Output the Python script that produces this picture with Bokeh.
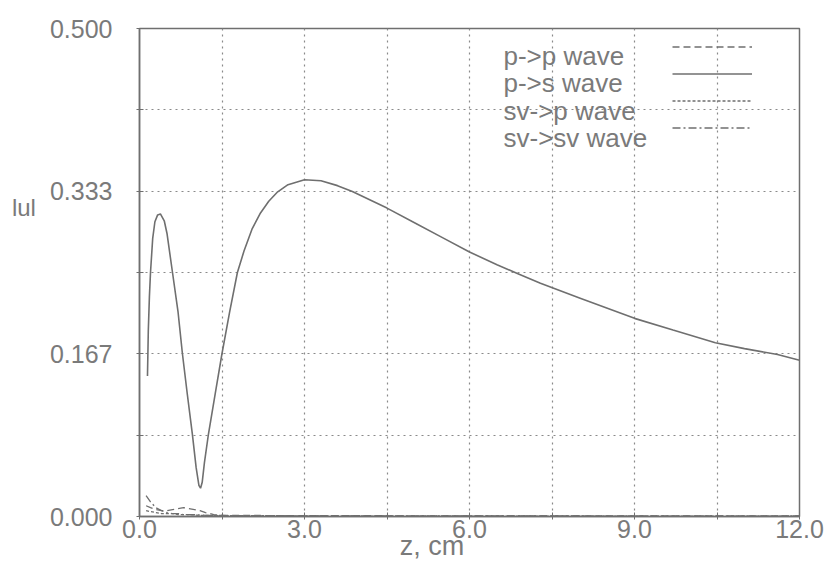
from bokeh.plotting import figure
from bokeh.models import (FixedTicker, Range1d, Legend, LegendItem, Label)
from bokeh.embed import file_html
from bokeh.resources import INLINE

# ---- data ----
z_ps = [0.145, 0.16, 0.18, 0.2, 0.24, 0.28, 0.33, 0.38, 0.45, 0.5, 0.6, 0.7,
        0.78, 0.87, 0.96, 1.03, 1.08, 1.11, 1.14, 1.18, 1.25, 1.38, 1.5, 1.64,
        1.78, 1.9, 2.05, 2.2, 2.35, 2.5, 2.7, 3.0, 3.3, 3.6, 3.87, 4.5, 5.0,
        5.5, 6.0, 6.5, 6.87, 7.29, 8.0, 9.0, 9.7, 10.47, 11.0, 11.6, 12.0]
u_ps = [0.144, 0.19, 0.225, 0.25, 0.285, 0.302, 0.309, 0.310, 0.303, 0.29,
        0.25, 0.21, 0.167, 0.125, 0.085, 0.05, 0.032, 0.029, 0.035, 0.055,
        0.083, 0.127, 0.167, 0.21, 0.25, 0.272, 0.295, 0.311, 0.323, 0.332,
        0.340, 0.345, 0.344, 0.339, 0.333, 0.316, 0.301, 0.286, 0.271, 0.258,
        0.249, 0.239, 0.224, 0.203, 0.191, 0.178, 0.172, 0.166, 0.160]

z_small = [0.12, 0.2, 0.3, 0.4, 0.5, 0.6, 0.7, 0.8, 0.9, 1.0, 1.1, 1.2, 1.35,
           1.5, 1.8, 2.2, 3.0, 4.0, 5.0, 6.0, 7.0, 8.0, 9.0, 10.0, 11.0, 12.0]
u_pp = [0.011, 0.009, 0.007, 0.006, 0.006, 0.007, 0.008, 0.009, 0.008, 0.007,
        0.006, 0.004, 0.002, 0.0012, 0.001, 0.001, 0.0008, 0.0008, 0.0007,
        0.0007, 0.0006, 0.0006, 0.0006, 0.0005, 0.0005, 0.0005]
u_svsv = [0.0215, 0.015, 0.009, 0.006, 0.004, 0.003, 0.003, 0.002, 0.002,
          0.0018, 0.0015, 0.0012, 0.001, 0.001, 0.0008, 0.0008, 0.0007, 0.0006,
          0.0006, 0.0005, 0.0005, 0.0005, 0.0004, 0.0004, 0.0004, 0.0004]
u_svp = [0.006, 0.005, 0.004, 0.003, 0.003, 0.003, 0.002, 0.002, 0.002,
         0.0015, 0.0012, 0.001, 0.001, 0.0008, 0.0007, 0.0006, 0.0005, 0.0005,
         0.0004, 0.0004, 0.0004, 0.0003, 0.0003, 0.0003, 0.0003, 0.0003]

x_ticks = [0, 3, 6, 9, 12]
x_tick_labels = ["0.0", "3.0", "6.0", "9.0", "12.0"]
y_ticks = [0, 1/6, 1/3, 0.5]
y_tick_labels = ["0.000", "0.167", "0.333", "0.500"]
legend_labels = ["p->p wave", "p->s wave", "sv->p wave", "sv->sv wave"]

GRAY = "#6f6f6f"
TXT = "#7a7a7a"
FONT = "Liberation Sans"
NB = "\u00a0"

p = figure(width=834, height=566, output_backend="svg", toolbar_location=None,
           x_range=Range1d(0, 12), y_range=Range1d(0, 0.5),
           min_border_left=139, min_border_right=35, min_border_top=28,
           min_border_bottom=50)
p.background_fill_color = "white"
p.border_fill_color = "white"
p.outline_line_color = GRAY
p.outline_line_width = 1.5

r_pp = p.line(z_small, u_pp, line_color=GRAY, line_width=1.3, line_dash="7 4")
r_ps = p.line(z_ps, u_ps, line_color=GRAY, line_width=1.6)
r_svp = p.line(z_small, u_svp, line_color=GRAY, line_width=1.3, line_dash="3 2")
r_svsv = p.line(z_small, u_svsv, line_color=GRAY, line_width=1.3, line_dash="8 3 2 3")

# axes
p.xaxis.ticker = FixedTicker(ticks=x_ticks, minor_ticks=[1.5, 4.5, 7.5, 10.5])
p.xaxis.major_label_overrides = {t: l for t, l in zip(x_ticks, x_tick_labels)}
p.yaxis.ticker = FixedTicker(ticks=y_ticks, minor_ticks=[1/12, 0.25, 5/12])
p.yaxis.major_label_overrides = {t: l for t, l in zip(y_ticks, y_tick_labels)}
for ax in (p.xaxis, p.yaxis):
    ax.axis_line_color = GRAY
    ax.axis_line_width = 1.5
    ax.major_tick_line_color = GRAY
    ax.minor_tick_line_color = GRAY
    ax.major_tick_in = 4
    ax.major_tick_out = 3
    ax.minor_tick_in = 4
    ax.minor_tick_out = 3
    ax.major_label_text_font = FONT
    ax.major_label_text_font_size = "25px"
    ax.major_label_text_color = TXT
    ax.axis_label_text_font = FONT
    ax.axis_label_text_font_style = "normal"
    ax.axis_label_text_color = TXT
p.yaxis.major_label_standoff = 24
p.xaxis.major_label_standoff = 0

# y label sits just below the 0.333 tick: extra blank lines push it upward
p.yaxis.axis_label = "lul" + ("\n" + NB) * 4
p.yaxis.axis_label_orientation = "horizontal"
p.yaxis.axis_label_standoff = 11
p.yaxis.axis_label_text_font_size = "24px"
p.yaxis.axis_label_text_line_height = 1.2
# x label sits left of centre: trailing blanks shift it
p.xaxis.axis_label = "z, cm" + NB * 10
p.xaxis.axis_label_standoff = -10
p.xaxis.axis_label_text_font_size = "27px"

# grids
p.xgrid.ticker = FixedTicker(ticks=[1.5, 3, 4.5, 6, 7.5, 9, 10.5])
p.ygrid.ticker = FixedTicker(ticks=[1/12, 1/6, 0.25, 1/3, 5/12])
for g in (p.xgrid, p.ygrid):
    g.grid_line_color = "#8a8a8a"
    g.grid_line_dash = "2 4"
    g.grid_line_width = 1.2

# legend: line samples only (text placed to the left, as in the original)
items = [LegendItem(label=" ", renderers=[r]) for r in (r_pp, r_ps, r_svp, r_svsv)]
leg = Legend(items=items, location=(533, 375), orientation="vertical",
             glyph_width=80, glyph_height=27, spacing=0, label_height=27,
             label_width=0, label_standoff=0, padding=0, margin=0,
             label_text_font_size="8px",
             border_line_alpha=0, background_fill_alpha=0)
p.add_layout(leg, "center")

row_y = [461, 434, 406, 379]
for lab, yy in zip(legend_labels, row_y):
    p.add_layout(Label(x=364, y=yy, x_units="screen", y_units="screen",
                       text=lab, text_font=FONT, text_font_size="26px",
                       text_color=TXT, text_baseline="alphabetic"))

open("out.html", "w").write(file_html(p, INLINE))
